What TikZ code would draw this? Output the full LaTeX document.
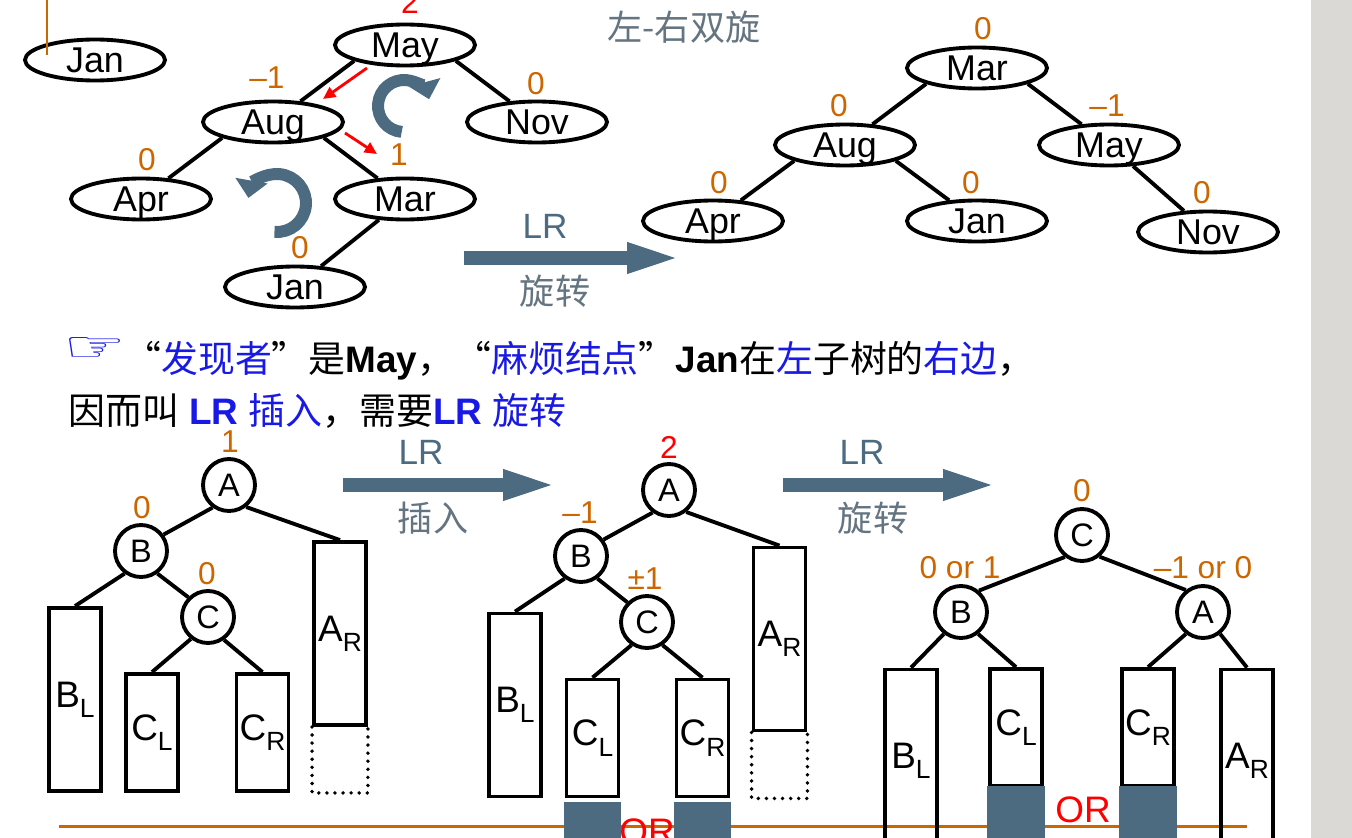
\documentclass[tikz,border=0pt]{standalone}
\usepackage{fontspec}
\usepackage{graphicx}
\setmainfont{Liberation Sans}
\newfontfamily\cjk{Noto Sans CJK SC}
\newfontfamily\dejavu{DejaVu Sans}
\usepackage{xcolor}
\usetikzlibrary{shapes.geometric}
\usetikzlibrary{arrows.meta}

\definecolor{balorange}{RGB}{204,102,0}
\definecolor{slate}{RGB}{76,106,128}
\definecolor{slategray}{RGB}{100,116,128}
\definecolor{sidegray}{RGB}{218,217,214}
\definecolor{hintblue}{RGB}{25,25,230}
\newcommand{\subscr}[1]{\raisebox{-.28em}{\fontsize{15}{15}\selectfont #1}}
\newcommand{\fsz}[1]{\fontsize{#1}{#1}\selectfont}

\begin{document}
\begin{tikzpicture}[x=.02cm,y=-.02cm,
    month/.style={draw,ellipse,line width=2.2pt,minimum width=2.8cm,minimum height=.82cm,
      inner sep=0pt,text height=14.6pt,text depth=0pt,font=\fsz{20.4}},
    letter/.style={draw,circle,line width=2.2pt,minimum size=1.04cm,inner sep=0pt,font=\fsz{18.5}},
    subtree/.style={draw,line width=2.2pt,minimum width=1.04cm,inner sep=0pt,font=\fsz{21}},
    bal/.style={text=balorange,inner sep=0pt,font=\fsz{18}},
    badbal/.style={text=red,inner sep=0pt,font=\fsz{18}},
    link/.style={line width=2.2pt},
    turn/.style={slate,line width=6.8pt,-{Triangle[length=10pt,width=18pt]}},
    bigarrow/.style={slate,line width=8.2pt,-{Triangle[length=33pt,width=15pt]}},
    hint/.style={red,line width=1.6pt,-{Triangle[length=7pt,width=6.5pt]}},
    dots/.style={line width=2.2pt,dash pattern=on 0pt off 4.6pt,line cap=round},
    grown/.style={fill=slate}
  ]
  \useasboundingbox (0,0) rectangle (1352,838);
  \fill[sidegray] (1311,0) rectangle (1352,838);
  \draw[balorange,line width=1.7pt] (59,826) -- (1247,826);

  \node[month] (jan0) at (95,60) {Jan};
  \draw[balorange,line width=1.7pt] (47,0) -- (47,55);

  \node[month] (may) at (405,45) {May};
  \node[month] (aug) at (273,122) {Aug};
  \node[month] (nov) at (537,122) {Nov};
  \node[month] (apr) at (141,199) {Apr};
  \node[month] (mar) at (405,199) {Mar};
  \node[month] (jan) at (295,287) {Jan};
  \draw[link] (may.south west) -- (aug);
  \draw[link] (may.south east) -- (nov);
  \draw[link] (aug.south west) -- (apr);
  \draw[link] (aug.south east) -- (mar);
  \draw[link] (mar) -- (jan);
  \node[badbal] (bmay) at (410,2) {2};
  \node[bal] (baug) at (267,78) {–1};
  \node[bal] (bnov) at (536,84) {0};
  \node[bal] (bapr) at (147,160) {0};
  \node[bal] (bmar) at (399,155) {1};
  \node[bal] (bjan) at (300,248) {0};
  \coordinate (hint1a) at (367,68);
  \coordinate (hint1b) at (323,99);
  \coordinate (hint2a) at (345,133);
  \coordinate (hint2b) at (377,154);
  \draw[hint] (hint1a) -- (hint1b);
  \draw[hint] (hint2a) -- (hint2b);
  \draw[turn] (404,106) ++(95:26) arc[start angle=95,end angle=345,radius=26];
  \draw[turn] (277,203) ++(95:29) arc[start angle=95,end angle=-170,radius=29];

  \node[text=slategray,font=\cjk\fsz{20}] (title) at (684,27) {左-右双旋};
  \coordinate (rot0) at (464,258);
  \coordinate (rot1) at (685,258);
  \draw[bigarrow] (rot0) -- (rot1);
  \node[text=slate,font=\fsz{20}] (lrtop) at (545,226) {LR};
  \node[text=slategray,font=\cjk\fsz{20}] (rottop) at (555,291) {旋转};

  \node[month] (mar2) at (977,68) {Mar};
  \node[month] (aug2) at (845,145) {Aug};
  \node[month] (may2) at (1109,145) {May};
  \node[month] (apr2) at (713,221) {Apr};
  \node[month] (jan2) at (977,221) {Jan};
  \node[month] (nov2) at (1208,232) {Nov};
  \draw[link] (mar2.south west) -- (aug2);
  \draw[link] (mar2.south east) -- (may2);
  \draw[link] (aug2.south west) -- (apr2);
  \draw[link] (aug2.south east) -- (jan2);
  \draw[link] (may2) -- (nov2);
  \node[bal] (bmar2) at (983,29) {0};
  \node[bal] (baug2) at (839,106) {0};
  \node[bal] (bmay2) at (1107,106) {–1};
  \node[bal] (bapr2) at (719,183) {0};
  \node[bal] (bjan2) at (971,183) {0};
  \node[bal] (bnov2) at (1202,193) {0};

  \node[text=hintblue,font=\dejavu\fsz{40},inner sep=0pt] (hand) at (95,350) {\scalebox{1}[.6]{☞}};
  \node[anchor=west,inner sep=0pt,font=\fsz{21}] (say1) at (124,361)
    {{\cjk “\textcolor{hintblue}{发现者}”是}\textbf{May}{\cjk ，“\textcolor{hintblue}{麻烦结点}”}\textbf{Jan}{\cjk 在\textcolor{hintblue}{左}子树的\textcolor{hintblue}{右边}，}};
  \node[anchor=west,inner sep=0pt,font=\fsz{21}] (say2) at (68,411)
    {{\cjk 因而叫} \textcolor{hintblue}{\textbf{LR} {\cjk 插入}}{\cjk ，需要}\textcolor{hintblue}{\textbf{LR} {\cjk 旋转}}};

  \coordinate (ins0) at (343,485);
  \coordinate (ins1) at (561,485);
  \draw[bigarrow] (ins0) -- (ins1);
  \node[text=slate,font=\fsz{20}] (lrins) at (421,452) {LR};
  \node[text=slategray,font=\cjk\fsz{20}] (insert) at (433,518) {插入};
  \coordinate (rot2) at (783,485);
  \coordinate (rot3) at (1001,485);
  \draw[bigarrow] (rot2) -- (rot3);
  \node[text=slate,font=\fsz{20}] (lrrot) at (862,452) {LR};
  \node[text=slategray,font=\cjk\fsz{20}] (rotate) at (873,518) {旋转};

  \node[letter] (a1) at (229,485) {A};
  \node[letter] (b1) at (141,551) {B};
  \node[letter] (c1) at (208,617) {C};
  \node[subtree,minimum height=3.66cm] (bl1) at (75,699.5) {B\subscr{L}};
  \node[subtree,minimum height=2.34cm] (cl1) at (152,732.5) {C\subscr{L}};
  \node[subtree,minimum height=2.34cm] (cr1) at (262.5,732.5) {C\subscr{R}};
  \node[subtree,minimum height=3.66cm] (ar1) at (340,633.5) {A\subscr{R}};
  \draw[dots] (ar1.south west) -- ++(0,66) -| (ar1.south east);
  \draw[link] (a1.234) -- (b1.36);
  \draw[link] (a1.308) -- (ar1.north);
  \draw[link] (b1.234) -- (bl1.north);
  \draw[link] (b1.306) -- (c1.135);
  \draw[link] (c1.232) -- (cl1.north);
  \draw[link] (c1.305) -- (cr1.north);
  \node[bal] (ba1) at (230,442) {1};
  \node[bal] (bb1) at (142,508) {0};
  \node[bal] (bc1) at (207,574) {0};

  \node[letter] (a2) at (669,490) {A};
  \node[letter] (b2) at (581,556) {B};
  \node[letter] (c2) at (647,622) {C};
  \node[subtree,minimum height=3.66cm] (bl2) at (515,705) {B\subscr{L}};
  \node[subtree,minimum height=2.34cm] (cl2) at (592.5,738) {C\subscr{L}};
  \node[subtree,minimum height=2.34cm] (cr2) at (702.5,738) {C\subscr{R}};
  \node[subtree,minimum height=3.66cm] (ar2) at (779.5,639) {A\subscr{R}};
  \draw[dots] (ar2.south west) -- ++(0,66) -| (ar2.south east);
  \fill[grown] (564,802) rectangle (621,845);
  \fill[grown] (674,802) rectangle (731,845);
  \node[text=red,font=\fsz{21},inner sep=0pt] (or2) at (647,832) {OR};
  \draw[link] (a2.234) -- (b2.36);
  \draw[link] (a2.308) -- (ar2.north);
  \draw[link] (b2.234) -- (bl2.north);
  \draw[link] (b2.306) -- (c2.135);
  \draw[link] (c2.236) -- (cl2.north);
  \draw[link] (c2.304) -- (cr2.north);
  \node[badbal] (ba2) at (669,447) {2};
  \node[bal] (bb2) at (580,513) {–1};
  \node[bal] (bc2) at (645,579) {±1};

  \node[letter] (c3) at (1082,535) {C};
  \node[letter] (b3) at (961,612) {B};
  \node[letter] (a3) at (1203,612) {A};
  \node[subtree,minimum height=3.66cm] (bl3) at (911,761) {B\subscr{L}};
  \node[subtree,minimum height=2.34cm] (cl3) at (1016,727.5) {C\subscr{L}};
  \node[subtree,minimum height=2.34cm] (cr3) at (1148,727.5) {C\subscr{R}};
  \node[subtree,minimum height=3.66cm] (ar3) at (1247,761) {A\subscr{R}};
  \fill[grown] (987,786) rectangle (1045,845);
  \fill[grown] (1119,786) rectangle (1177,845);
  \node[text=red,font=\fsz{21},inner sep=0pt] (or3) at (1083,810) {OR};
  \draw[link] (c3.232) -- (b3.50);
  \draw[link] (c3.309) -- (a3.128);
  \draw[link] (b3.232) -- (bl3.north);
  \draw[link] (b3.308) -- (cl3.north);
  \draw[link] (a3.232) -- (cr3.north);
  \draw[link] (a3.308) -- (ar3.north);
  \node[bal] (bc3) at (1082,491) {0};
  \node[bal] (bb3) at (960,568) {0 or 1};
  \node[bal] (ba3) at (1203,568) {–1 or 0};
\end{tikzpicture}
\end{document}
